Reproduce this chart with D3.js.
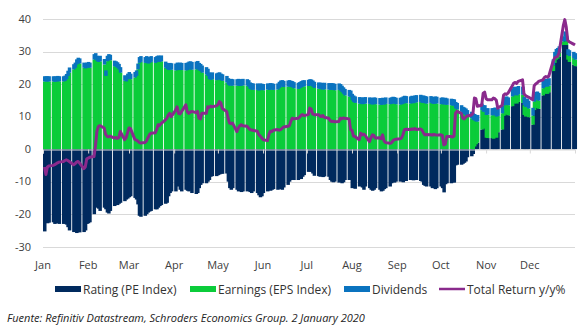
<!DOCTYPE html>
<html>
<head>
<meta charset="utf-8">
<script src="https://cdn.jsdelivr.net/npm/d3@7"></script>
<style>
  body { margin: 0; background: #fff; }
  text { font-family: "Open Sans", sans-serif; }
</style>
</head>
<body>
<div id="chart"></div>
<script>
// one value per weekday of 2019 (261 days)
var rating = [
  -25.3,-22.5,-22.8,-22.6,
  -22.5,-23,-22.8,-22.3,-23,   -23,-22.8,-23.2,-24,-25,   -25.5,-25.3,-25.8,-25.5,-25.6,   -25.5,-25,-23,-22.8,-22.5,
  -20,-18,-17.8,-18.3,-19,     -18,-18.5,-19.5,-19.8,-19, -17.5,-17,-17.2,-16.8,-16.5,     -16,-15.5,-15.2,-14.8,-14.5,
  -15,-15.5,-17,-20.5,-20.8,   -20.5,-20,-19.5,-19.2,-19, -18.5,-18.5,-18,-17.5,-17.2,     -16.8,-16.5,-14.5,-13.5,-13,
  -13,-11.5,-11,-12.5,-13,     -12.5,-12.8,-13,-12.5,-13.5, -13.8,-13.5,-12,-11,-10.5,     -10.5,-10,-9.5,-8.5,-8.3,
  -8.3,-8,-7.8,-7.5,-7.6,      -7.5,-10,-12,-12.5,-12,    -12.5,-13,-12.8,-13.2,-13,       -13,-12.8,-13.2,-13.5,-13,
  -13.5,-14.2,-14.8,-14.5,-13.5, -13,-12.5,-12.8,-12.5,-12.3, -12.5,-12,-12.3,-12.5,-11.8, -11,-10,-9.5,-9.3,-9.5,
  -9.5,-9,-9.2,-8.5,-8,        -7,-6.8,-7,-7.5,-8.2,      -8.3,-8.5,-8.2,-8.6,-8.4,        -8.5,-9.5,-10,-10.2,-10,
  -10.3,-10,-10.5,-10.2,-9.5,  -9.5,-8,-12,-11,-12.2,     -11.5,-11.2,-11.8,-12.5,-11.5,   -12,-12.5,-12.8,-12.5,-12,
  -12.5,-13,-12.8,-12.3,-12,   -11.5,-10.5,-10,-10.3,-10, -10,-9.8,-10.2,-9.5,-9.8,        -9.5,-9.3,-9.6,-9.4,-9.5,
  -9.8,-10,-11,-11.3,-11.5,    -11.5,-12,-11.8,-12.3,-12, -11.5,-12,-13.3,-10.8,-10.5,     -10.5,-10.2,-10.3,-5,-4.8,
  -4.8,-4.5,-4.2,-3.8,-2.5,    -2.2,-1.5,0.8,1.5,2,       6,6.5,6.3,3.5,3.4,               3.4,3.2,3.8,3.5,5.2,
  6,10.2,10.6,10.8,10.4,       13.2,14,14.2,14,14.5,      14.2,10.5,10,10.2,9.8,           7.5,12,12.6,12.8,12.4,
  16.5,17,17.2,17,17.5,        24,26.5,27.5,27.8,28.5,    32,33.5,32,27.5,26.8,
  26,25.5
];
var earnings = [
  20.8,20.8,20.8,20.8,
  20.8,20.7,20.8,20.9,20.8,    20.8,21,21.5,22.5,23.5,    24.5,25,26,26.5,26.3,            25,24.8,25,25.2,25,
  27.5,27.8,27,26.8,27,        26,22.5,27,27.5,27.3,      25.5,25.3,25,24.5,23.5,          21,20.8,21.5,22,21.5,
  22,22.5,24.5,26.5,26.8,      26.5,26.8,26.3,26.5,26.8,  26.5,26.8,27,26.8,27,            25,24.6,24.3,24.5,24.4,
  24.2,24.5,24.3,24.4,24.3,    24.2,24.3,24.5,24.6,24.4,  24.5,24.8,24.2,24,23.5,          23,22.5,21.5,21.3,21.5,
  21.2,21.4,21.5,21.2,21,      20.5,19.8,19.5,19.6,19.5,  19.5,19.6,19.4,19.5,19.6,        19.5,19.2,18.5,18.3,18.2,
  18.2,18,18.3,18.2,18.1,      18.3,18.2,18.4,18.3,18.2,  18.3,18.8,19.2,19.3,19.1,        19.2,19.3,19.1,19,18.7,
  18.5,18.7,19,19.2,19.3,      19.4,19.6,19.5,19.2,18.8,  18.6,18.5,18.4,18.3,18.4,        18.3,18.2,18.3,18.2,18.1,
  18.2,18,17.5,17,16.5,        16.2,16,15,14.5,14.2,      14,13.9,13.8,13.9,14,            13.9,13.8,13.7,13.9,13.8,
  13.7,13.6,13.8,13.7,13.9,    13.8,13.9,14.1,14,13.8,    13.7,13.8,14,14.2,14.1,          14,14.2,14.1,14.3,14.4,
  14.5,14.2,14.3,14.1,14,      14.2,14,13.9,14.1,14,      13.8,13.9,13.7,13.8,13.6,        13.5,13.4,13.3,12.5,12.2,
  11.5,11,10.8,10.5,10,        9.5,9,8,7,6.5,             6,5,5.2,7,7.2,                   7,7.2,6.8,6.5,5,
  5,3.2,3,3,3.1,               3,2.6,2.5,2.5,2.4,         2.5,3,3,2.8,2.7,                 2.8,2.6,2.6,2.5,2.5,
  2.2,2.1,2.1,2.2,2,           1.8,1.6,1.5,1.5,1.3,       1.1,1.1,1.2,1.5,1.8,
  2,2
];
var dividends = [
  1.6,1.6,1.6,1.6,
  1.6,1.6,1.6,1.6,1.6,         1.6,1.6,1.6,1.6,1.6,       1.6,1.6,1.6,1.6,1.6,             1.6,1.6,1.6,1.6,1.6,
  1.7,1.7,1.7,1.7,1.7,         1.7,1.7,1.7,1.7,1.7,       1.7,1.7,1.7,1.7,1.7,             1.7,1.7,1.7,1.7,1.7,
  1.7,1.7,1.8,1.8,1.8,         1.8,1.8,1.8,1.8,1.8,       1.8,1.8,1.8,1.8,1.8,             1.9,1.9,2,2,2,
  2.1,2.1,2.2,2.2,2.2,         2.3,2.3,2.4,2.4,2.4,       2.4,2.3,2.3,2.2,2.2,             2.2,2.2,2.1,2.1,2.1,
  2.1,2.1,2.1,2,2,             2,2,2,2,2,                 2,2,2,2,2,                       2,2,2,2,2,
  2,1.9,1.9,1.9,1.9,           1.9,1.9,1.9,1.9,1.9,       1.9,1.9,1.9,1.9,1.9,             1.9,1.9,1.9,1.9,1.9,
  1.9,1.9,1.9,1.9,1.9,         1.9,1.9,1.9,1.9,1.9,       1.9,1.9,2,2,2,                   2,2,2,2,2,
  2,2,2,2,2,                   2,2,2,2,2,                 2,2,2,2,2,                       2,2,2,2,2,
  2,2,2,2,2,                   2,2,2,2,2,                 2.1,2.1,2.2,2.2,2.2,             2.2,2.2,2.2,2.2,2.2,
  2.2,2.2,2.2,2.2,2.2,         2.1,2.1,2.1,2.1,2.1,       2,2,2,2,2,                       2,2,2,2,2,
  2,2,2,2,2,                   2,2,2,2,2,                 2,2,2,2,2,                       2.2,2.2,2.2,2.2,2.2,
  2.3,2.3,2.4,2.4,2.4,         2.5,2.5,2.5,2.5,2.5,       2.5,2.5,2.5,2.5,2.4,             2.4,2.4,2.4,2.4,2.4,
  2.3,2.3,2.3,2.3,2.3,         1.8,1.8,1.8,1.8,1.8,       1.6,1.6,1.6,1.7,1.8,
  1.9,2
];
var totalReturn = [
  -5.5,-7.8,-5.5,-5.2,
  -5,-4.8,-4.5,-4.2,-4,        -3.8,-3.5,-3.3,-3.5,-3.8,  -4.8,-4.5,-4,-3.8,-4.2,          -6,-5.5,-3,-2.8,-2.5,
  -2.3,1,5.5,7,7.2,            6.5,4.5,3.9,3.8,4,         3.4,3.6,3.3,3.5,5.4,             2.9,3.5,5,6.5,6.3,
  3,2.8,2.5,2,1.9,             2,2.5,3.5,4.4,4.9,         5,6,7.5,7.3,7.8,                 9,9.5,10.5,11,10,
  12,13,11,10.8,11.5,          13.6,11.5,11,11.3,11.6,    11.2,11.6,9.5,9.3,11,            11,13,12.8,13.2,13,
  13.3,13.6,14.6,14.2,12.5,    11.6,9.5,8,7.8,8,          5.4,6.5,7.2,7.5,7.2,             7,6.5,6,5.9,5.8,
  5.5,4.5,4,3.5,2.9,           2.6,4.5,5.5,5.4,5.8,       6,5.8,6,6.4,6.8,                 7,7.2,8.5,9.5,9.3,
  9.5,9.8,10.4,10.6,10.3,      10.6,12.6,12.3,10.8,10.6,  10.6,10.2,10,10.3,9.8,           9.5,8.8,8.5,8.6,8.4,
  8.5,9.5,9.3,9.6,9.5,         9.3,6,5.8,4,3.9,           2.9,4.9,4.4,4.6,4.2,             2.3,3.5,4.4,4.2,3.4,
  3.5,3.2,4.4,2.5,2,           1.8,1.9,2.5,2.9,3,         3.2,3.4,4.5,6,6.1,               6,6.2,6.1,6.3,6,
  6.2,5.9,5,4.4,4.5,           4.4,4.3,4.5,4.4,4.3,       4.4,4.2,1.3,1.5,3.9,             3.9,3.7,4,11,11.6,
  11,9.5,9.3,9.8,10.2,         10.5,11,15.7,15.5,13.2,    13.5,17.2,17.5,15.5,15.2,        15.2,15.7,15.5,15,12.6,
  13.5,16.6,17,16.8,17.2,      19.5,20.3,20.5,20.2,20.8,  21.3,17,16.5,16.2,16,            15.2,19.5,20,20.3,20.8,
  21.3,22,22.3,22.1,22.4,      27,28,28.3,28.5,29.5,      38,39.8,37.5,33.5,33,
  32.3,32
];
var months = ["Jan","Feb","Mar","Apr","May","Jun","Jul","Aug","Sep","Oct","Nov","Dec"];
var yTicks = [-30,-20,-10,0,10,20,30,40];
var seriesNames = ["Rating (PE Index)","Earnings (EPS Index)","Dividends","Total Return y/y%"];
var source = "Fuente: Refinitiv Datastream, Schroders Economics Group. 2 January 2020";

var colors = {rating:"#002a5e", earnings:"#0bcc3a", dividends:"#0a73bf", line:"#8a2a8c"};

var width = 585, height = 329;
var svg = d3.select("#chart").append("svg")
            .attr("width", width)
            .attr("height", height);

// weekdays of 2019
var days = d3.timeDay.range(new Date(2019,0,1), new Date(2020,0,1))
             .filter(function(d){ return d.getDay() % 6 !== 0; });

var x = d3.scaleTime()
          .domain([new Date(2019,0,1), new Date(2020,0,1)])
          .range([43, 575]);
var y = d3.scaleLinear()
          .domain([-30, 40])
          .range([246.7, 19]);

var dayW = x(new Date(2019,0,2)) - x(new Date(2019,0,1));
var barW = dayW * 2.4;

// grid
svg.append("g").selectAll("line")
   .data(yTicks).enter().append("line")
   .attr("x1", 43).attr("x2", 575)
   .attr("y1", function(d){ return Math.round(y(d)) + 0.5; })
   .attr("y2", function(d){ return Math.round(y(d)) + 0.5; })
   .attr("stroke", "#d9d9d9")
   .attr("stroke-width", 1);

// y labels
svg.append("g").selectAll("text")
   .data(yTicks).enter().append("text")
   .attr("x", 31)
   .attr("y", function(d){ return y(d); })
   .attr("dy", "0.35em")
   .attr("text-anchor", "end")
   .attr("font-size", "11px")
   .attr("fill", "#404040")
   .text(function(d){ return d; });

// stacked bars
var data = days.map(function(d, i){
    var r = rating[i], e = earnings[i], dv = dividends[i];
    var base = r < 0 ? 0 : r;
    return {date:d, r:r, e0:base, e1:base+e, d0:base+e, d1:base+e+dv};
});

var bars = svg.append("g");
bars.selectAll(".r").data(data).enter().append("rect")
    .attr("x", function(d){ return x(d.date); })
    .attr("width", barW)
    .attr("y", function(d){ return y(Math.max(0, d.r)); })
    .attr("height", function(d){ return Math.abs(y(d.r) - y(0)); })
    .attr("fill", colors.rating);
bars.selectAll(".e").data(data).enter().append("rect")
    .attr("x", function(d){ return x(d.date); })
    .attr("width", barW)
    .attr("y", function(d){ return y(d.e1); })
    .attr("height", function(d){ return y(d.e0) - y(d.e1); })
    .attr("fill", colors.earnings);
bars.selectAll(".dv").data(data).enter().append("rect")
    .attr("x", function(d){ return x(d.date); })
    .attr("width", barW)
    .attr("y", function(d){ return y(d.d1); })
    .attr("height", function(d){ return y(d.d0) - y(d.d1); })
    .attr("fill", colors.dividends);

// axis at zero
var monthStarts = months.map(function(m, i){ return new Date(2019, i, 1); });
var xAxis = d3.axisBottom(x).tickValues(monthStarts).tickSize(4).tickFormat("");
var ax = svg.append("g")
   .attr("transform", "translate(0," + (Math.round(y(0)) + 0.5) + ")")
   .call(xAxis);
ax.select(".domain").attr("stroke", "#d9d9d9");
ax.selectAll(".tick line").attr("stroke", "#d9d9d9");

// month labels
svg.append("g").selectAll("text")
   .data(monthStarts).enter().append("text")
   .attr("x", function(d){ return x(d); })
   .attr("y", 269)
   .attr("text-anchor", "middle")
   .attr("font-size", "11px")
   .attr("fill", "#404040")
   .text(function(d, i){ return months[i]; });

// total return line
var line = d3.line()
   .x(function(d, i){ return x(days[i]) + dayW; })
   .y(function(d){ return y(d); });
svg.append("path")
   .datum(totalReturn)
   .attr("d", line)
   .attr("fill", "none")
   .attr("stroke", colors.line)
   .attr("stroke-width", 3)
   .attr("stroke-linejoin", "round");

// legend
var legX = [55, 190, 344, 439];
var legColors = [colors.rating, colors.earnings, colors.dividends, colors.line];
var leg = svg.append("g");
seriesNames.forEach(function(name, i){
    if (i < 3) {
        leg.append("rect")
           .attr("x", legX[i]).attr("y", 286)
           .attr("width", 26).attr("height", 6)
           .attr("fill", legColors[i]);
    } else {
        leg.append("line")
           .attr("x1", legX[i]).attr("x2", legX[i] + 26)
           .attr("y1", 289).attr("y2", 289)
           .attr("stroke", legColors[i])
           .attr("stroke-width", 2.5);
    }
    leg.append("text")
       .attr("x", legX[i] + 28)
       .attr("y", 293.5)
       .attr("font-size", "12px")
       .attr("fill", "#333")
       .text(name);
});

// source
svg.append("text")
   .attr("x", 7)
   .attr("y", 322)
   .attr("font-size", "11px")
   .attr("font-style", "italic")
   .attr("fill", "#222")
   .text(source);
</script>
</body>
</html>
